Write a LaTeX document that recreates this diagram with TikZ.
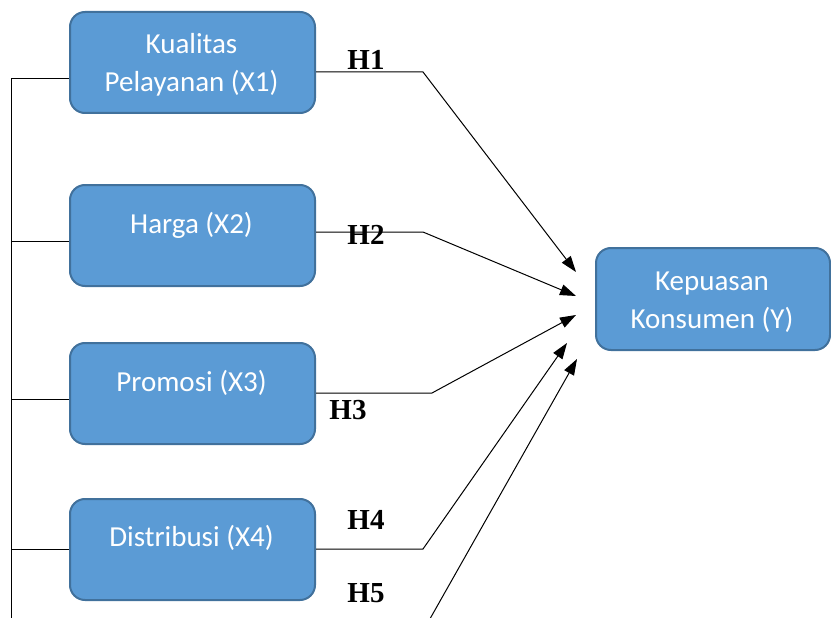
\documentclass[tikz,border=0pt]{standalone}
\usepackage{fontspec}
\setmainfont{Liberation Serif}
\newfontfamily\boxfont{Carlito}
\usetikzlibrary{arrows.meta}
\definecolor{boxfill}{HTML}{5B9BD5}
\definecolor{boxline}{HTML}{41719C}
\tikzset{
  varbox/.style={draw=boxline, line width=2pt, fill=boxfill, rounded corners=15pt,
    minimum width=245pt, minimum height=101pt, inner sep=0pt, anchor=north west},
  boxtxt/.style={text=white, font=\boxfont\fontsize{29}{38}\selectfont, align=center, inner sep=0pt},
  conn/.style={draw=black, line width=1pt},
  arr/.style={conn, -{Triangle[length=16pt,width=11pt]}},
  hlab/.style={font=\bfseries\fontsize{29}{30}\selectfont, inner sep=0pt}
}
\begin{document}
\begin{tikzpicture}[x=1pt,y=-1pt]
\useasboundingbox (0,0) rectangle (831,618);
\clip (0,0) rectangle (831,618);
% boxes
\node[varbox] (x1) at (69,11) {};
\node[varbox] (x2) at (69,184) {};
\node[varbox] (x3) at (69,342) {};
\node[varbox] (x4) at (69,498) {};
\node[varbox, minimum width=234pt, minimum height=102pt] (y) at (595,247) {};
% texts
\node[boxtxt] (t1) at (191.5,65) {Kualitas\\Pelayanan (X1)};
\node[boxtxt] (t2) at (191.5,225) {Harga (X2)};
\node[boxtxt] (t3) at (191.5,383) {Promosi (X3)};
\node[boxtxt] (t4) at (191.5,538) {Distribusi (X4)};
\node[boxtxt] (ty) at (712,302) {Kepuasan\\Konsumen (Y)};
% left tree
\coordinate (top) at (11,79);
\coordinate (bot) at (11,640);
\draw[conn] (bot) -- (top) -- (x1.west |- top);
\draw[conn] (top |- 0,241) -- (x2.west |- 0,241);
\draw[conn] (top |- 0,399) -- (x3.west |- 0,399);
\draw[conn] (top |- 0,549) -- (x4.west |- 0,549);
% arrow tips
\coordinate (a1) at (576,272);
\coordinate (a2) at (576,296);
\coordinate (a3) at (576,315);
\coordinate (a4) at (567,343);
\coordinate (a5) at (577,359);
\coordinate (s5) at (418,640);
% connectors
\draw[arr] (x1.east |- 0,72) -- (423,72) -- (a1);
\draw[arr] (x2.east |- 0,232) -- (423,232) -- (a2);
\draw[arr] (x3.east |- 0,393) -- (432,393) -- (a3);
\draw[arr] (x4.east |- 0,549) -- (423,549) -- (a4);
\draw[arr] (s5) -- (a5);
% labels
\node[hlab] (h1) at (366,60) {H1};
\node[hlab] (h2) at (366,235) {H2};
\node[hlab] (h3) at (348,410) {H3};
\node[hlab] (h4) at (366,520) {H4};
\node[hlab] (h5) at (366,593) {H5};
\end{tikzpicture}
\end{document}
